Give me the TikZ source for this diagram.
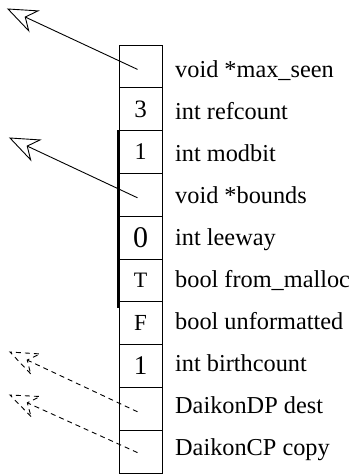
\documentclass[tikz,border=0pt]{standalone}
\usepackage{fontspec}
\setmainfont{Liberation Serif}
\usetikzlibrary{calc}

% open, notched arrow head drawn by hand so that it can take the line's dash pattern
% #1 style, #2 tip, #3 point the shaft comes from
\newcommand\notchhead[3][]{%
  \draw[#1] ($(#2)!28pt!(#3)!11pt!90:(#2)$) -- (#2)
        -- ($(#2)!28pt!(#3)!11pt!-90:(#2)$) -- ($(#2)!19pt!(#3)$) -- cycle;}

\begin{document}
\begin{tikzpicture}[x=1pt,y=-1pt,
  font=\fontsize{24.3}{28}\selectfont,
  cell/.style={draw,line width=0.9pt,minimum width=43pt,minimum height=42.8pt,
    inner sep=0pt},
  field/.style={anchor=base west,inner sep=0pt},
  ptr/.style={line width=0.9pt},
  dptr/.style={line width=0.9pt,dash pattern=on 5pt off 4pt}]
\useasboundingbox (0,0) rectangle (353,474);

% the record, one cell per field; the values are set in slightly different sizes
\foreach \v/\s [count=\i] in {{}/25,3/25,1/24,{}/25,0/30,T/22,F/23,1/27,{}/25,{}/25}
  \node[cell,font=\fontsize{\s}{\s}\selectfont] (c\i) at (140.5,{66.4+42.8*(\i-1)}) {\v};

% thickened stretch of the left border
\draw[line width=1.8pt] ([xshift=-0.45pt]c3.north west) -- ([xshift=-0.45pt,yshift=-6pt]c6.south west);

% field declarations beside the cells
\foreach \t [count=\i] in {void *max\_seen,int refcount,int modbit,void *bounds,
    int leeway,bool from\_malloc,bool unformatted,int birthcount,
    DaikonDP dest,DaikonCP copy}
  \node[field] (l\i) at (175,{77+42*(\i-1)}) {\t};

% pointer tails inside the cells and their free ends
\coordinate (s1) at ($(c1.center)+(-3,3)$);
\coordinate (s4) at ($(c4.center)+(-3,3)$);
\coordinate (s9) at ($(c9.center)+(-3,3)$);
\coordinate (s10) at ($(c10.center)+(-3,1)$);
\coordinate (t1) at (8,9);
\coordinate (t4) at (10,138);
\coordinate (t9) at (10,352);
\coordinate (t10) at (10,395);

% plain pointers
\draw[ptr] (s1) -- ($(t1)!19pt!(s1)$);
\notchhead[ptr]{t1}{s1}
\draw[ptr] (s4) -- ($(t4)!19pt!(s4)$);
\notchhead[ptr]{t4}{s4}

% Daikon pointers, dashed
\draw[dptr] (s9) -- ($(t9)!19pt!(s9)$);
\notchhead[dptr]{t9}{s9}
\draw[dptr] (s10) -- ($(t10)!19pt!(s10)$);
\notchhead[dptr]{t10}{s10}
\end{tikzpicture}
\end{document}
